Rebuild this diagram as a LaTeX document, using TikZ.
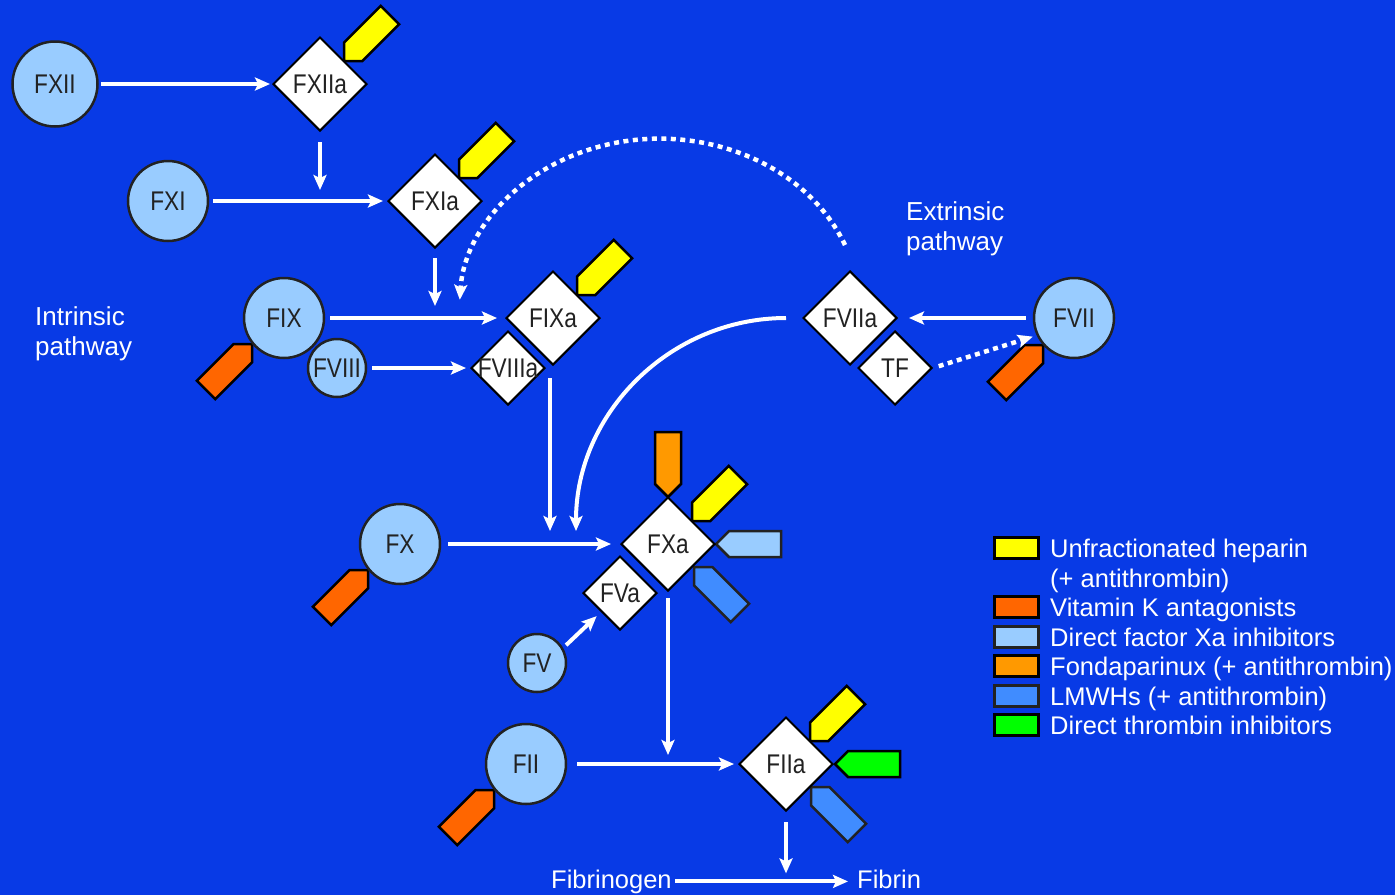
\documentclass[tikz,border=0pt]{standalone}
\usepackage{fontspec}
\setmainfont{Liberation Sans}
\newfontfamily\nodefont[FakeStretch=0.84]{Liberation Sans}
\usetikzlibrary{shapes.geometric,arrows.meta}
\definecolor{bg}{RGB}{8,58,230}
\definecolor{circfill}{RGB}{153,204,255}
\definecolor{ufh}{RGB}{255,255,0}
\definecolor{vka}{RGB}{255,102,0}
\definecolor{dxa}{RGB}{153,204,255}
\definecolor{fonda}{RGB}{255,153,0}
\definecolor{lmwh}{RGB}{64,140,255}
\definecolor{dti}{RGB}{0,255,0}
\definecolor{ink}{RGB}{34,34,34}
\newcommand\zw[1]{\makebox[0pt]{#1}}
\newcommand\tagptr[5]{%
  \filldraw[ptr, fill=#4, draw=#5, shift={(#1,#2)}, rotate=#3]
    (0,0) -- (13,13) -- (65,13) -- (65,-13) -- (13,-13) -- cycle;}
\tikzset{
  nodetext/.style={text=ink, font={\nodefont\fontsize{27}{30}\selectfont}},
  fac/.style={circle, draw=ink, line width=2.5pt, fill=circfill, minimum size=80pt, inner sep=0pt, nodetext},
  facs/.style={fac, minimum size=58pt},
  act/.style={diamond, aspect=1, draw=black, line width=2pt, fill=white, minimum size=94pt, inner sep=0pt, nodetext},
  acts/.style={act, minimum size=74pt},
  arr/.style={draw=white, line width=4pt, -{Stealth[length=15pt,width=13pt,inset=3pt]}},
  dotarr/.style={arr, line width=4.5pt, dash pattern=on 5pt off 4.5pt},
  lbl/.style={text=white, font={\fontsize{26}{30}\selectfont}, inner sep=0pt, align=left},
  legtxt/.style={text=white, font={\fontsize{25.5}{30}\selectfont}, inner sep=0pt, anchor=base west},
  legbox/.style={draw=black, line width=3pt, minimum width=44pt, minimum height=21pt, inner sep=0pt},
  ptr/.style={line width=2.5pt, line join=miter},
}
\begin{document}
\begin{tikzpicture}[x=1pt,y=-1pt]
\useasboundingbox (0,0) rectangle (1395,895);
\fill[bg] (0,0) rectangle (1395,895);

% inhibitor tags (drawn first, under the nodes)
\tagptr{344}{61}{45}{ufh}{black}
\tagptr{459}{178}{45}{ufh}{black}
\tagptr{577}{295}{45}{ufh}{black}
\tagptr{692}{521}{45}{ufh}{black}
\tagptr{810}{741}{45}{ufh}{black}
\tagptr{835}{764}{0}{dti}{black}
\tagptr{811}{787}{-45}{lmwh}{ink}
\tagptr{716}{544}{0}{dxa}{ink}
\tagptr{694}{567}{-45}{lmwh}{ink}
\tagptr{668}{497}{90}{fonda}{black}
\tagptr{252}{344}{225}{vka}{black}
\tagptr{1043}{345}{225}{vka}{black}
\tagptr{368}{570}{225}{vka}{black}
\tagptr{494}{790}{225}{vka}{black}

% factors
\node[fac, minimum size=85pt] (fxii) at (55,84) {FXII};
\node[act] (fxiia) at (320,84) {FXIIa};
\node[fac] (fxi) at (168,201) {FXI};
\node[act] (fxia) at (435,201) {FXIa};
\node[fac] (fix) at (284,318) {FIX};
\node[act] (fixa) at (553,318) {FIXa};
\node[facs] (fviii) at (337,368) {\zw{FVIII}};
\node[acts] (fviiia) at (508,368) {\zw{FVIIIa}};
\node[act] (fviia) at (850,318) {FVIIa};
\node[acts] (tf) at (895,368) {TF};
\node[fac] (fvii) at (1074,318) {FVII};
\node[fac] (fx) at (400,544) {FX};
\node[act] (fxa) at (668,544) {FXa};
\node[acts] (fva) at (620,593) {FVa};
\node[facs] (fv) at (537,663) {FV};
\node[fac] (fii) at (526,764) {FII};
\node[act] (fiia) at (786,764) {FIIa};

% text labels
\node[lbl, anchor=north west] (intr) at (35,306) {Intrinsic\\pathway};
\node[lbl, anchor=north west] (extr) at (906,201) {Extrinsic\\pathway};
\node[legtxt] (fbg) at (551,888) {Fibrinogen};
\node[legtxt] (fbn) at (857,888) {Fibrin};

% junction coordinates
\coordinate (j1) at (fxiia.south |- fxi);
\coordinate (j2) at (fxia.south |- fix);
\coordinate (j3) at ([xshift=-3pt]fixa.south |- fx);
\coordinate (j4) at (fxa.south |- fii);
\coordinate (j5) at (fiia.south |- fbg.east);
\coordinate (a0) at ([shift={(-5pt,25pt)}]fviia.north);
\coordinate (b0) at ([xshift=-16pt]fviia.west);

% horizontal conversions
\draw[arr, shorten <=2pt, shorten >=2pt] (fxii) -- (fxiia);
\draw[arr, shorten <=4pt, shorten >=4pt] (fxi) -- (fxia);
\draw[arr, shorten <=5pt, shorten >=8pt] (fix) -- (fixa);
\draw[arr, shorten <=5pt, shorten >=4pt] (fviii) -- (fviiia);
\draw[arr, shorten <=7pt, shorten >=9pt] (fx) -- (fxa);
\draw[arr, shorten <=10pt, shorten >=4pt] (fii) -- (fiia);
\draw[arr, shorten <=7pt, shorten >=11pt] (fvii) -- (fviia);
\draw[arr, shorten <=4pt, shorten >=6pt] (fv.30) -- (fva.south west);
\draw[arr, shorten <=3pt, shorten >=9pt] (fbg.east) -- (fbg.east -| fbn.west);

% vertical feeds
\draw[arr] ([yshift=-10pt]fxiia.south) -- ([yshift=11pt]j1);
\draw[arr] ([yshift=-9pt]fxia.south) -- ([yshift=12pt]j2);
\draw[arr] ([xshift=-3pt,yshift=-12pt]fixa.south) -- ([yshift=13pt]j3);
\draw[arr] ([yshift=-6pt]fxa.south) -- ([yshift=9pt]j4);
\draw[arr] ([yshift=-10pt]fiia.south) -- ([yshift=8pt]j5);

% extrinsic links
\draw[arr] (b0) arc[start angle=-90, end angle=-180, x radius=210, y radius=213];
\draw[dotarr] (a0) arc[start angle=-22, end angle=-177, x radius=200, y radius=170];
\draw[dotarr, shorten <=6pt, shorten >=4pt] (tf.east) -- (fvii.205);

% legend
\node[legbox, fill=ufh] (k1) at (1016,548) {};
\node[legbox, fill=vka] (k2) at (1016,607) {};
\node[legbox, fill=dxa, draw=ink] (k3) at (1016,637) {};
\node[legbox, fill=fonda] (k4) at (1016,666) {};
\node[legbox, fill=lmwh, draw=ink] (k5) at (1016,696) {};
\node[legbox, fill=dti] (k6) at (1016,725) {};
\node[legtxt] (t1) at (1050,557) {Unfractionated heparin};
\node[legtxt] (t1b) at (1050,587) {(+ antithrombin)};
\node[legtxt] (t2) at (1050,616) {Vitamin K antagonists};
\node[legtxt] (t3) at (1050,646) {Direct factor Xa inhibitors};
\node[legtxt] (t4) at (1050,675) {Fondaparinux (+ antithrombin)};
\node[legtxt] (t5) at (1050,705) {LMWHs (+ antithrombin)};
\node[legtxt] (t6) at (1050,734) {Direct thrombin inhibitors};
\end{tikzpicture}
\end{document}
